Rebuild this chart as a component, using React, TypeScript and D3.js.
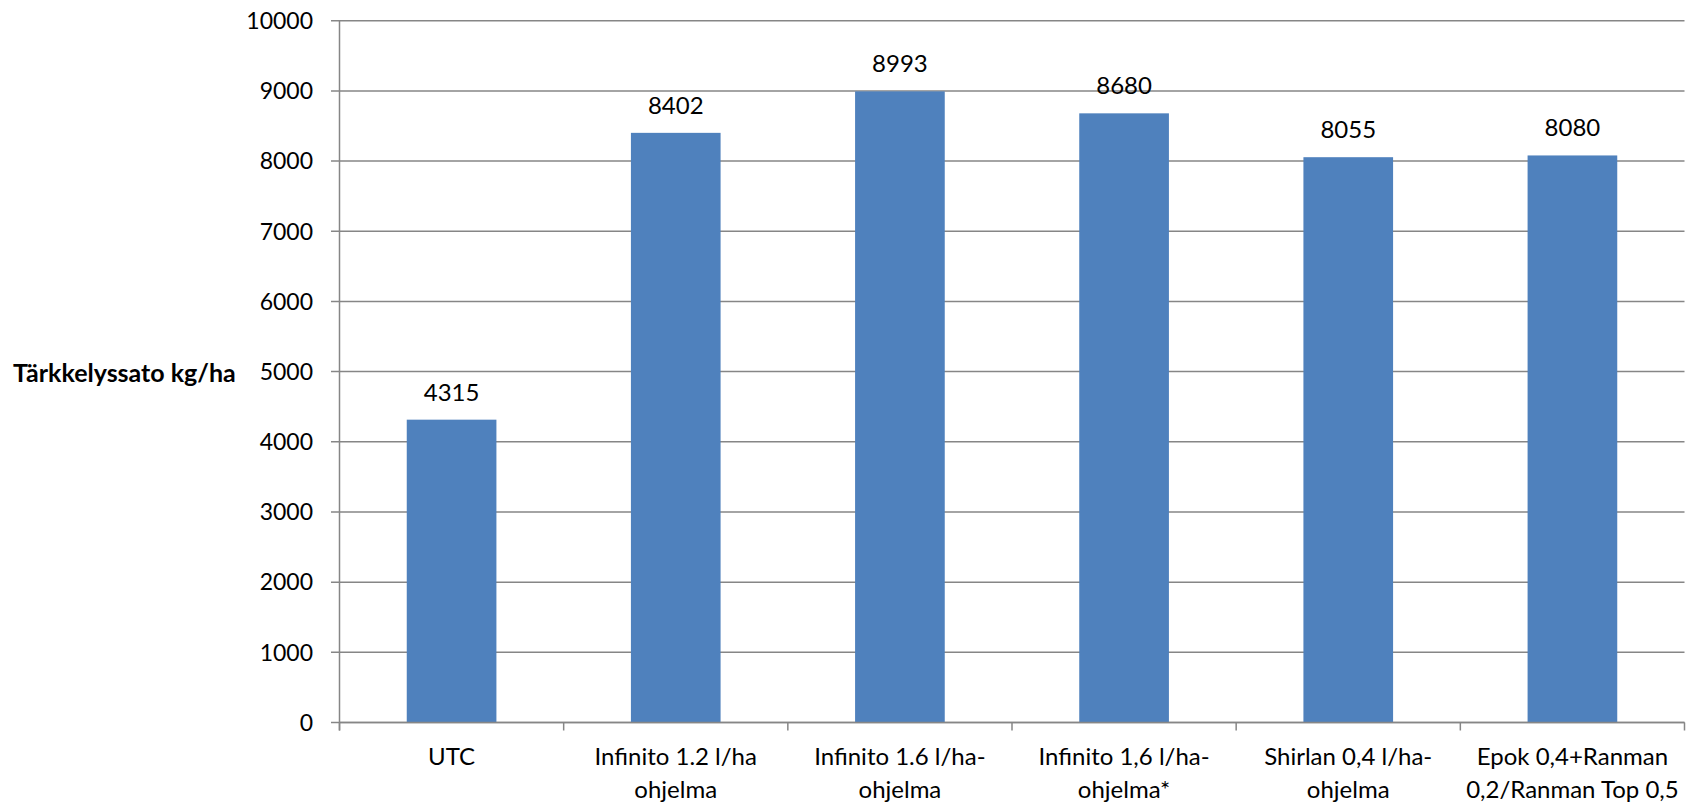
import React from "react";
import * as d3 from "d3";

const categories: string[][] = [
  ["UTC"],
  ["Infinito 1.2 l/ha", "ohjelma"],
  ["Infinito 1.6 l/ha-", "ohjelma"],
  ["Infinito 1,6 l/ha-", "ohjelma*"],
  ["Shirlan 0,4 l/ha-", "ohjelma"],
  ["Epok 0,4+Ranman", "0,2/Ranman Top 0,5"],
];
const values: number[] = [4315, 8402, 8993, 8680, 8055, 8080];
const yTicks: number[] = [0, 1000, 2000, 3000, 4000, 5000, 6000, 7000, 8000, 9000, 10000];
const yTitle = "Tärkkelyssato kg/ha";

const W = 1702;
const H = 804;
const left = 339.5;
const right = 1684.5;
const top = 20.7;
const bottom = 722.5;
const FONT = "Lato, 'Open Sans', sans-serif";
const GRID = "#868686";
const BAR = "#4F81BD";

export default function App() {
  const idx = categories.map((_, i) => String(i));
  const x = d3.scaleBand<string>().domain(idx).range([left, right]).paddingInner(0.6).paddingOuter(0.3);
  const xb = d3.scaleBand<string>().domain(idx).range([left, right]);
  const y = d3.scaleLinear().domain([0, 10000]).range([bottom, top]);

  return (
    <svg width={W} height={H} style={{ position: "absolute", left: 0, top: 0, display: "block" }} fontFamily={FONT}>
      <rect x={0} y={0} width={W} height={H} fill="#fff" />
      {yTicks.map((t) => (
        <g key={t}>
          <line x1={331} x2={right} y1={y(t)} y2={y(t)} stroke={GRID} strokeWidth={1.5} />
          <text x={313} y={y(t)} dy="0.36em" textAnchor="end" fontSize={23} fill="#000">
            {t}
          </text>
        </g>
      ))}
      {values.map((v, i) => {
        const bx = x(String(i))!;
        const bw = x.bandwidth();
        return (
          <g key={i}>
            <rect x={bx} y={y(v)} width={bw} height={bottom - y(v)} fill={BAR} />
            <text x={bx + bw / 2} y={y(v) - 19} textAnchor="middle" fontSize={24} fill="#000">
              {v}
            </text>
          </g>
        );
      })}
      <line x1={left} x2={left} y1={top} y2={bottom + 8} stroke={GRID} strokeWidth={1.5} />
      <line x1={left} x2={right} y1={bottom} y2={bottom} stroke={GRID} strokeWidth={1.5} />
      {idx.concat([String(categories.length)]).map((k, i) => {
        const xx = i < categories.length ? xb(k)! : right;
        return <line key={"t" + i} x1={xx} x2={xx} y1={bottom} y2={bottom + 8} stroke={GRID} strokeWidth={1.5} />;
      })}
      {categories.map((lines, i) => {
        const cx = xb(String(i))! + xb.bandwidth() / 2;
        return (
          <text key={"c" + i} textAnchor="middle" fontSize={24} fill="#000">
            {lines.map((l, j) => (
              <tspan key={j} x={cx} y={765 + j * 33}>
                {l}
              </tspan>
            ))}
          </text>
        );
      })}
      <text x={13} y={382} fontSize={25} fontWeight="bold" fill="#000">
        {yTitle}
      </text>
    </svg>
  );
}
